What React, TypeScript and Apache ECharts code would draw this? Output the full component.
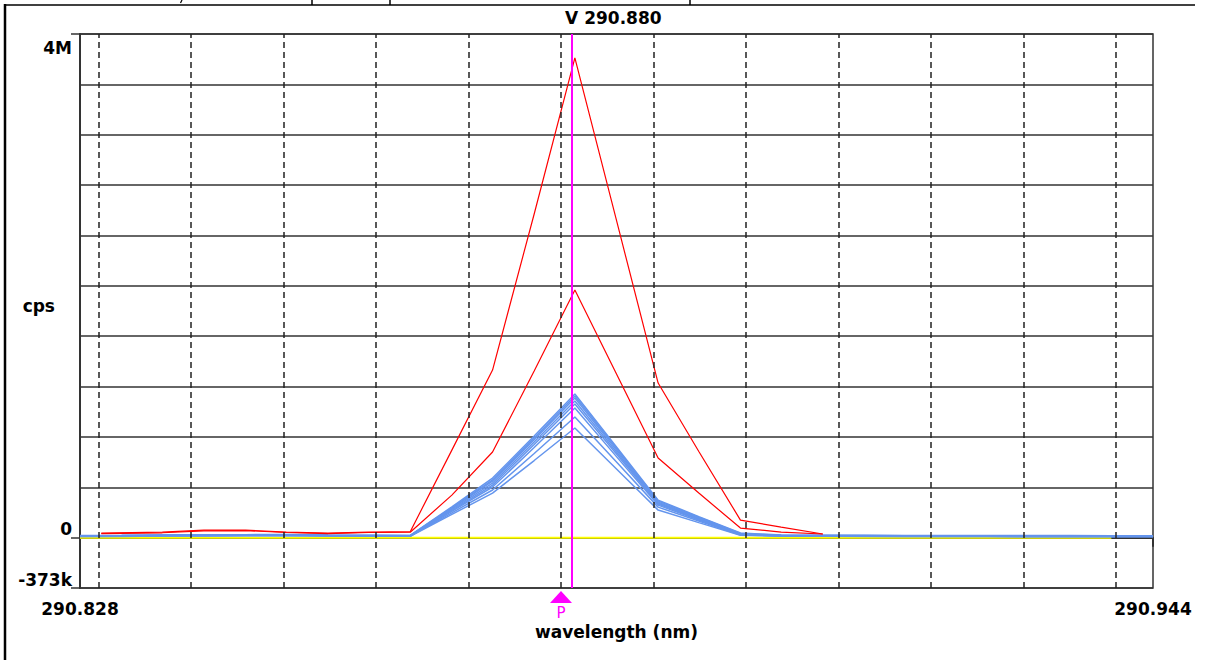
import React, { useEffect, useRef } from "react";
import * as echarts from "echarts";

// ---- data ----
const wavelengths = [
  290.828, 290.8325, 290.8369, 290.8414, 290.8459, 290.8503, 290.8548, 290.8592, 290.8637,
  290.8682, 290.8726, 290.8771, 290.8815, 290.886, 290.8905, 290.8949, 290.8994, 290.9038,
  290.9083, 290.9128, 290.9172, 290.9217, 290.9261, 290.9306, 290.9351, 290.9395, 290.944,
];

const redWavelengths = [
  290.8303, 290.8369, 290.8414, 290.8459, 290.8503, 290.8548, 290.8592, 290.8637, 290.8682,
  290.8726, 290.8771, 290.8815, 290.886, 290.8905, 290.8949, 290.8994, 290.9038, 290.9083,
];

const redOuter = [34000, 41000, 56000, 56000, 41000, 34000, 41000, 44000, 648000, 1241000, 2397000, 3553000, 2349000, 1145000, 638000, 130000, 78000, 27000];
const redInner = [30000, 36000, 50000, 52000, 38000, 30000, 38000, 40000, 315000, 634000, 1234000, 1834000, 1212000, 590000, 330000, 71000, 41000, 27000];

const blue1 = [16000, 17000, 20000, 22000, 22000, 24000, 20000, 18000, 16000, 228000, 441000, 752000, 1064000, 671000, 278000, 156000, 34000, 20000, 18000, 17000, 16000, 16000, 15000, 15000, 15000, 14000, 14000];
const blue2 = [14000, 15000, 18000, 20000, 20000, 22000, 18000, 16000, 15000, 221000, 427000, 738000, 1049000, 660000, 271000, 151000, 31000, 18000, 16000, 15000, 14000, 14000, 14000, 13000, 13000, 13000, 12000];
const blue3 = [13000, 14000, 17000, 19000, 19000, 20000, 17000, 15000, 14000, 217000, 419000, 726000, 1034000, 648000, 263000, 145000, 28000, 17000, 15000, 14000, 13000, 13000, 12000, 12000, 12000, 12000, 11000];
const blue4 = [12000, 13000, 16000, 17000, 18000, 19000, 16000, 14000, 13000, 210000, 404000, 708000, 1012000, 634000, 256000, 141000, 26000, 15000, 14000, 13000, 12000, 12000, 11000, 11000, 11000, 11000, 10000];
const blue5 = [11000, 12000, 15000, 16000, 17000, 18000, 15000, 13000, 12000, 202000, 389000, 690000, 990000, 620000, 249000, 136000, 24000, 14000, 13000, 12000, 11000, 11000, 10000, 10000, 10000, 10000, 10000];
const blue6 = [10000, 11000, 14000, 15000, 16000, 17000, 14000, 12000, 12000, 195000, 375000, 667000, 960000, 600000, 241000, 131000, 22000, 13000, 12000, 11000, 10000, 10000, 10000, 9000, 9000, 9000, 9000];
const blue7 = [9000, 10000, 13000, 14000, 15000, 16000, 13000, 11000, 11000, 184000, 353000, 623000, 893000, 560000, 226000, 123000, 20000, 12000, 11000, 10000, 9000, 9000, 9000, 8000, 8000, 8000, 8000];
const blue8 = [8000, 9000, 12000, 13000, 14000, 15000, 12000, 10000, 10000, 172000, 330000, 571000, 812000, 508000, 204000, 111000, 18000, 11000, 10000, 9000, 8000, 8000, 8000, 7000, 7000, 7000, 7000];
const blueSeries = [blue1, blue2, blue3, blue4, blue5, blue6, blue7, blue8];

const yellowValues = [0, 0, 0, 0, 0, 0, 0, 0, 0, 0, 0, 0, 0, 0, 0, 0, 0, 0, 0, 0, 0, 0, 0, 0, 0, 0];

const xMin = 290.828;
const xMax = 290.944;
const xTickValues = [290.828, 290.944];
const gridWavelengths = [290.83, 290.84, 290.85, 290.86, 290.87, 290.88, 290.89, 290.9, 290.91, 290.92, 290.93, 290.94];

const yMin = -373000;
const yMax = 3730000;
const yInterval = 373000;
const yTickValues = [-373000, 0, 3730000];
const yLabelValues = [-373000, 0];
const yLabelTexts = ["-373k", "0"];
const yTopLabel = "4M";
const yName = "cps";

const cursorWavelength = 290.8812;
const cursorTitle = "V 290.880";
const peakMarkerWavelength = 290.88;
const peakMarkerLabel = "P";

const FONT = "DejaVu Sans";

const pair = (xs: number[], ys: number[]) => ys.map((v, i) => [xs[i], v]);

export default function App() {
  const ref = useRef<HTMLDivElement>(null);

  useEffect(() => {
    if (!ref.current) return;
    const chart = echarts.init(ref.current, null, { renderer: "svg" });

    const series: any[] = [];
    series.push({
      type: "line",
      name: "zero",
      data: pair(wavelengths, yellowValues),
      symbol: "none",
      lineStyle: { color: "#ffff00", width: 2 },
      z: 2,
      markLine: {
        silent: true,
        precision: 5,
        symbol: ["none", "none"],
        label: { show: false },
        lineStyle: { type: [6, 4], color: "#222", width: 1.5 },
        data: gridWavelengths.map((v) => ({ xAxis: v })),
      },
    });
    blueSeries.forEach((b, i) => {
      series.push({
        type: "line",
        name: "blue" + i,
        data: pair(wavelengths, b),
        symbol: "none",
        lineStyle: { color: "#6495ed", width: 1.5 },
        z: 3,
      });
    });
    series.push({
      type: "line",
      name: "redInner",
      data: pair(redWavelengths, redInner),
      symbol: "none",
      lineStyle: { color: "#ff0000", width: 1.2 },
      z: 4,
    });
    series.push({
      type: "line",
      name: "redOuter",
      data: pair(redWavelengths, redOuter),
      symbol: "none",
      lineStyle: { color: "#ff0000", width: 1.2 },
      z: 4,
      markLine: {
        silent: true,
        precision: 5,
        symbol: ["none", "none"],
        label: { show: false },
        lineStyle: { type: "solid", color: "#ff00ff", width: 2 },
        data: [{ xAxis: cursorWavelength }],
        z: 6,
      },
    });

    const labelFont = { fontFamily: FONT, fontWeight: "bold", fontSize: 17, color: "#000" };

    chart.setOption({
      animation: false,
      backgroundColor: "#ffffff",
      grid: {
        left: 80,
        right: 57,
        top: 34,
        bottom: 72,
        show: true,
        borderColor: "#333",
        borderWidth: 1.5,
        containLabel: false,
        outerBoundsMode: "none",
      },
      xAxis: {
        type: "value",
        min: xMin,
        max: xMax,
        name: "wavelength (nm)",
        nameLocation: "middle",
        nameGap: 35,
        nameMoveOverlap: false,
        nameTextStyle: labelFont,
        axisLine: { show: true, lineStyle: { color: "#333", width: 2 } },
        axisTick: { show: true, inside: false, length: 9, customValues: xTickValues, lineStyle: { color: "#333", width: 2 } },
        axisLabel: {
          show: true,
          customValues: xTickValues,
          margin: 12,
          formatter: (v: number) => v.toFixed(3),
          ...labelFont,
        },
        splitLine: { show: false },
      },
      yAxis: [
        {
          type: "value",
          min: yMin,
          max: yMax,
          interval: yInterval,
          axisLine: { show: true, lineStyle: { color: "#333", width: 2 } },
          axisTick: { show: true, inside: false, length: 9, customValues: yTickValues, lineStyle: { color: "#333", width: 1.5 } },
          axisLabel: {
            show: true,
            customValues: yLabelValues,
            margin: 8,
            verticalAlign: "bottom",
            formatter: (v: number) => {
              const i = yLabelValues.indexOf(v);
              return i >= 0 ? yLabelTexts[i] : "";
            },
            ...labelFont,
          },
          splitLine: { show: false },
        },
        {
          type: "value",
          min: yMin,
          max: yMax,
          interval: yInterval,
          position: "left",
          axisLine: { show: false },
          axisTick: { show: false },
          axisLabel: { show: false },
          splitLine: { show: true, lineStyle: { color: "#333", width: 1.5, type: "solid" } },
        },
      ],
      series,
    });

    const px = chart.convertToPixel({ xAxisIndex: 0 }, peakMarkerWavelength) as number;
    const cx = chart.convertToPixel({ xAxisIndex: 0 }, cursorWavelength) as number;
    const yTop = chart.convertToPixel({ yAxisIndex: 0 }, yMax) as number;
    const yBot = chart.convertToPixel({ yAxisIndex: 0 }, yMin) as number;

    chart.setOption({
      graphic: [
        { type: "line", silent: true, shape: { x1: 5, y1: 5, x2: 1195, y2: 5 }, style: { stroke: "#000", lineWidth: 1.5 } },
        { type: "line", silent: true, shape: { x1: 5, y1: 4, x2: 5, y2: 660 }, style: { stroke: "#000", lineWidth: 2.5 } },
        { type: "line", silent: true, shape: { x1: 312, y1: 0, x2: 312, y2: 5 }, style: { stroke: "#000", lineWidth: 1.5 } },
        { type: "line", silent: true, shape: { x1: 390, y1: 0, x2: 390, y2: 5 }, style: { stroke: "#000", lineWidth: 1.5 } },
        { type: "line", silent: true, shape: { x1: 690, y1: 0, x2: 690, y2: 5 }, style: { stroke: "#000", lineWidth: 1.5 } },
        { type: "line", silent: true, shape: { x1: 182, y1: 0, x2: 180.5, y2: 3 }, style: { stroke: "#000", lineWidth: 1.2 } },
        {
          type: "text",
          silent: true,
          x: cx - 7,
          y: 18,
          style: { text: cursorTitle, fontFamily: FONT, fontWeight: "bold", fontSize: 17, fill: "#000", align: "left", verticalAlign: "middle" },
        },
        {
          type: "text",
          silent: true,
          x: 72,
          y: yTop + 14,
          style: { text: yTopLabel, fontFamily: FONT, fontWeight: "bold", fontSize: 17, fill: "#000", align: "right", verticalAlign: "middle" },
        },
        {
          type: "text",
          silent: true,
          x: 55,
          y: (yTop + yBot) / 2 - 5,
          style: { text: yName, fontFamily: FONT, fontWeight: "bold", fontSize: 17, fill: "#000", align: "right", verticalAlign: "middle" },
        },
        {
          type: "polygon",
          silent: true,
          shape: { points: [[px - 11, yBot + 15], [px, yBot + 3], [px + 11, yBot + 15]] },
          style: { fill: "#ff00ff" },
        },
        {
          type: "text",
          silent: true,
          x: px,
          y: yBot + 17,
          style: { text: peakMarkerLabel, fontFamily: FONT, fontSize: 15, lineHeight: 15, fill: "#ff00ff", align: "center", verticalAlign: "top" },
        },
      ],
    });

    return () => chart.dispose();
  }, []);

  return (
    <div
      ref={ref}
      style={{ position: "fixed", left: 0, top: 0, width: 1210, height: 660, background: "#fff" }}
    />
  );
}
